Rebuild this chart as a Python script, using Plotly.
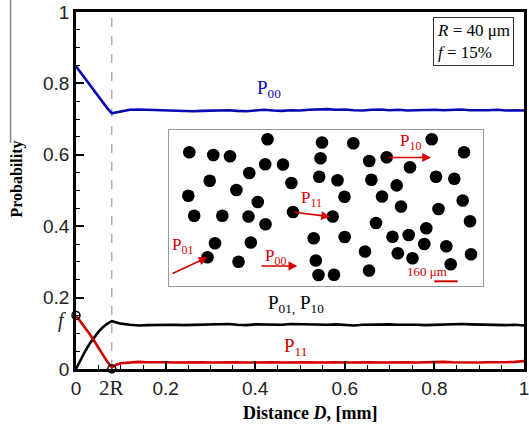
import plotly.graph_objects as go

# ---------------- data ----------------
D = [0.00, 0.01, 0.02, 0.03, 0.04, 0.05, 0.06, 0.07, 0.08, 0.09,
     0.10, 0.12, 0.14, 0.16, 0.18, 0.20, 0.22, 0.24, 0.26, 0.28,
     0.30, 0.32, 0.34, 0.36, 0.38, 0.40, 0.42, 0.44, 0.46, 0.48,
     0.50, 0.52, 0.54, 0.56, 0.58, 0.60, 0.62, 0.64, 0.66, 0.68,
     0.70, 0.72, 0.74, 0.76, 0.78, 0.80, 0.82, 0.84, 0.86, 0.88,
     0.90, 0.92, 0.94, 0.96, 0.98, 1.00]

P00 = [0.848, 0.831, 0.814, 0.797, 0.780, 0.763, 0.746, 0.730, 0.716, 0.719,
       0.722, 0.726, 0.727, 0.726, 0.725, 0.724, 0.723, 0.724, 0.722, 0.723,
       0.724, 0.723, 0.725, 0.723, 0.722, 0.724, 0.726, 0.724, 0.723, 0.725,
       0.724, 0.726, 0.727, 0.728, 0.726, 0.727, 0.725, 0.724, 0.726, 0.727,
       0.725, 0.726, 0.724, 0.725, 0.727, 0.726, 0.725, 0.726, 0.727, 0.725,
       0.724, 0.725, 0.726, 0.724, 0.725, 0.724]

P01 = [0.000, 0.026, 0.049, 0.070, 0.088, 0.104, 0.117, 0.127, 0.134, 0.131,
       0.127, 0.124, 0.122, 0.123, 0.124, 0.125, 0.124, 0.123, 0.124, 0.125,
       0.124, 0.125, 0.126, 0.124, 0.123, 0.125, 0.124, 0.125, 0.124, 0.126,
       0.125, 0.124, 0.123, 0.124, 0.125, 0.124, 0.122, 0.124, 0.125, 0.124,
       0.125, 0.124, 0.125, 0.124, 0.123, 0.124, 0.125, 0.124, 0.126, 0.125,
       0.124, 0.125, 0.124, 0.123, 0.124, 0.122]

P11 = [0.150, 0.134, 0.117, 0.099, 0.080, 0.060, 0.040, 0.020, 0.004, 0.012,
       0.016, 0.019, 0.020, 0.019, 0.020, 0.019, 0.018, 0.019, 0.020, 0.019,
       0.018, 0.019, 0.020, 0.019, 0.018, 0.019, 0.020, 0.019, 0.018, 0.019,
       0.020, 0.019, 0.018, 0.019, 0.019, 0.018, 0.019, 0.020, 0.019, 0.018,
       0.019, 0.020, 0.019, 0.018, 0.019, 0.019, 0.020, 0.019, 0.018, 0.019,
       0.018, 0.019, 0.018, 0.019, 0.020, 0.022]

two_R = 0.08
f_val = 0.15

x_tick_vals = [0, 0.2, 0.4, 0.6, 0.8, 1]
x_tick_text = ["0", "0.2", "0.4", "0.6", "0.8", "1"]
y_tick_vals = [0, 0.2, 0.4, 0.6, 0.8, 1]
y_tick_text = ["0", "0.2", "0.4", "0.6", "0.8", "1"]

# inset microstructure: particle centres (inset units, origin bottom-left)
dots_x = [20.3, 44.3, 61.0, 98.5, 153.0, 184.3, 96.2, 114.0, 80.3, 151.5,
          40.7, 122.4, 150.2, 168.5, 67.4, 19.3, 88.8, 175.5, 25.2, 53.3,
          79.5, 124.0, 163.7, 96.5, 144.7, 175.7, 46.0, 81.8, 38.5, 69.5,
          146.8, 149.5, 165.0, 196.0, 200.2, 217.7, 262.7, 295.0, 241.0, 202.4,
          227.7, 267.0, 285.3, 213.0, 232.0, 269.5, 293.7, 301.0, 207.0, 223.5,
          239.7, 257.3, 255.3, 277.3, 228.8, 243.5, 302.0, 281.7, 200.0]
dots_y = [133.7, 131.0, 129.7, 146.8, 143.5, 142.7, 121.8, 121.5, 113.0, 127.7,
          105.3, 103.0, 109.3, 105.7, 96.0, 90.2, 84.0, 89.3, 70.3, 70.3,
          69.5, 74.0, 69.5, 61.8, 47.7, 49.0, 42.7, 43.5, 28.7, 24.3,
          25.5, 11.0, 11.3, 34.5, 125.0, 128.7, 146.8, 133.7, 118.7, 106.3,
          100.6, 109.3, 107.2, 89.5, 79.5, 77.0, 85.5, 64.7, 63.0, 49.3,
          51.0, 57.7, 42.0, 39.7, 32.7, 27.7, 31.7, 21.7, 15.5]

# arrows
arrow_labels = ["P<sub>01</sub>", "P<sub>00</sub>", "P<sub>11</sub>", "P<sub>10</sub>"]
arrow_x0 = [2.0, 91.0, 124.0, 217.7]
arrow_y0 = [11.7, 20.0, 74.0, 128.5]
arrow_x1 = [38.5, 128.3, 161.0, 262.0]
arrow_y1 = [28.7, 20.0, 69.3, 128.5]
label_x = [13.0, 106.0, 142.0, 241.0]
label_y = [40.0, 29.0, 87.0, 144.0]

INSET_W = 314
INSET_H = 156

BLUE = "#0a0ab4"
RED = "#d40000"
SERIF = "Liberation Serif, Times New Roman, serif"
SANS = "Liberation Sans, Arial, sans-serif"

fig = go.Figure()

fig.add_trace(go.Scatter(x=D, y=P00, mode="lines", line=dict(color=BLUE, width=2.6),
                         showlegend=False, hoverinfo="skip"))
fig.add_trace(go.Scatter(x=D, y=P01, mode="lines", line=dict(color="black", width=2.6),
                         showlegend=False, hoverinfo="skip"))
fig.add_trace(go.Scatter(x=D, y=P11, mode="lines", line=dict(color=RED, width=2.6),
                         showlegend=False, hoverinfo="skip"))
fig.add_trace(go.Scatter(x=[0, two_R], y=[f_val, 0], mode="markers",
                         marker=dict(symbol="circle-open", size=8, color="black",
                                     line=dict(width=1.5)),
                         cliponaxis=False, showlegend=False, hoverinfo="skip"))

fig.add_trace(go.Scatter(x=dots_x, y=dots_y, mode="markers", xaxis="x2", yaxis="y2",
                         marker=dict(size=12.6, color="black", line=dict(width=0)),
                         showlegend=False, hoverinfo="skip"))

annotations = []
for lab, xs, ys, xe, ye, lx, ly in zip(arrow_labels, arrow_x0, arrow_y0, arrow_x1,
                                        arrow_y1, label_x, label_y):
    annotations.append(dict(x=xe, y=ye, ax=xs, ay=ys, xref="x2", yref="y2",
                            axref="x2", ayref="y2", text="", showarrow=True,
                            arrowhead=2, arrowsize=1.1, arrowwidth=1.6,
                            arrowcolor=RED, standoff=0, startstandoff=0))
    annotations.append(dict(x=lx, y=ly, xref="x2", yref="y2", text=lab,
                            showarrow=False,
                            font=dict(family=SERIF, size=17, color=RED)))
annotations.append(dict(x=258, y=14.5, xref="x2", yref="y2", text="160 μm",
                        showarrow=False, font=dict(family=SERIF, size=13, color=RED)))

annotations.append(dict(x=0.43, y=0.785, xref="x", yref="y", text="P<sub>00</sub>",
                        showarrow=False, font=dict(family=SERIF, size=19, color=BLUE)))
annotations.append(dict(x=0.49, y=0.183, xref="x", yref="y",
                        text="P<sub>01,</sub> P<sub>10</sub>",
                        showarrow=False, font=dict(family=SERIF, size=19, color="black")))
annotations.append(dict(x=0.49, y=0.062, xref="x", yref="y", text="P<sub>11</sub>",
                        showarrow=False, font=dict(family=SERIF, size=19, color=RED)))

annotations.append(dict(x=two_R, y=0, xref="x", yref="y", yshift=-19, text="2R",
                        showarrow=False, font=dict(family=SERIF, size=21, color="#222")))
annotations.append(dict(x=0, y=f_val, xref="x", yref="y", xshift=-14, yshift=-5,
                        text="<i>f</i>", showarrow=False,
                        font=dict(family=SERIF, size=20, color="#222")))

annotations.append(dict(x=0.978, y=0.987, xref="paper", yref="paper",
                        xanchor="right", yanchor="top", align="left",
                        text="<i>R</i> = 40 μm<br><i>f</i> = 15%", showarrow=False,
                        bordercolor="#333", borderwidth=1, borderpad=3,
                        bgcolor="white",
                        font=dict(family=SERIF, size=17, color="black")))

annotations.append(dict(x=-0.1306, y=0.532, xref="paper", yref="paper",
                        xanchor="center", yanchor="middle",
                        text="<b>Probability</b>", textangle=-90, showarrow=False,
                        font=dict(family=SERIF, size=16, color="black")))
annotations.append(dict(x=0.522, y=-0.124, xref="paper", yref="paper",
                        xanchor="center", yanchor="middle",
                        text="<b>Distance <i>D</i>, [mm]</b>", showarrow=False,
                        font=dict(family=SERIF, size=18, color="black")))

shapes = [
    dict(type="line", xref="x", yref="y", x0=two_R, x1=two_R, y0=0, y1=1,
         line=dict(color="#888", width=1, dash="dash"), layer="below"),
    dict(type="line", xref="x2", yref="y2", x0=265.3, x1=288.7, y0=4.7, y1=4.7,
         line=dict(color=RED, width=2)),
    dict(type="line", xref="paper", yref="paper", x0=-0.1462, x1=-0.1462,
         y0=0.633, y1=1.04, line=dict(color="#888", width=1.5)),
]

axis_common = dict(
    range=[0, 1], ticks="inside", ticklen=8, tickwidth=2, tickcolor="black",
    minor=dict(dtick=0.05, ticks="inside", ticklen=4, tickwidth=1.2,
               tickcolor="black", showgrid=False),
    showline=True, linewidth=2.5, linecolor="black", mirror=True,
    showgrid=False, zeroline=False, automargin=False,
    ticklabeloverflow="allow",
    tickfont=dict(family=SANS, size=19, color="#222"),
)

fig.update_layout(
    width=529, height=426,
    margin=dict(l=76, r=5, t=12, b=57, autoexpand=False),
    paper_bgcolor="white", plot_bgcolor="white",
    showlegend=False,
    annotations=annotations,
    shapes=shapes,
    xaxis=dict(tickvals=x_tick_vals, ticktext=x_tick_text, **axis_common),
    yaxis=dict(tickvals=y_tick_vals, ticktext=y_tick_text, **axis_common),
    xaxis2=dict(domain=[0.2076, 0.9085], range=[0, INSET_W], anchor="y2",
                showline=True, linecolor="#999", linewidth=1.3, mirror=True,
                showgrid=False, zeroline=False, showticklabels=False, ticks="",
                automargin=False),
    yaxis2=dict(domain=[0.2325, 0.6695], range=[0, INSET_H], anchor="x2",
                showline=True, linecolor="#999", linewidth=1.3, mirror=True,
                showgrid=False, zeroline=False, showticklabels=False, ticks="",
                automargin=False),
)

fig.write_html("out.html",
               config={"displayModeBar": False},
               post_script="document.body.style.margin='0';"
                           "document.body.style.overflow='hidden';")
